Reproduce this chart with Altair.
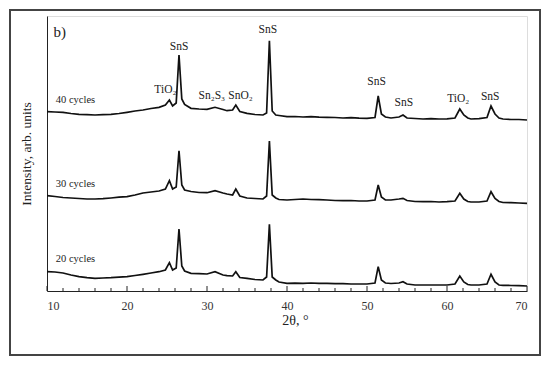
import altair as alt
import pandas as pd

# 2-theta positions (degrees)
two_theta = [10, 11, 12, 13, 14, 15, 16, 17, 18, 19, 20, 21, 22, 23, 24, 24.8, 25.3, 25.7,
             26.15, 26.5, 26.85, 27.2, 28, 29, 30, 31, 32, 32.5, 33.2, 33.6, 34.1, 35, 36, 37,
             37.45, 37.8, 38.15, 38.6, 39, 40, 41, 42, 43, 44, 45, 46, 47, 48, 49, 50, 51,
             51.4, 51.8, 52.3, 53, 54, 54.5, 55, 56, 57, 58, 59, 60, 61, 61.6, 62.1, 62.6,
             63, 64, 65, 65.5, 66.0, 66.5, 67, 68, 69, 70]

# intensities (arb. units, offset stacked)
int_40 = [179.3, 179, 178.7, 177.5, 176.7, 176.3, 176, 176.3, 176.7, 177.5, 178.7, 180, 181,
          182.5, 183.7, 186, 191, 185, 188, 236, 192, 186.5, 182.7, 182, 181.7, 183.7, 181.5,
          180.3, 181, 186, 179.5, 177.7, 176.5, 176, 178, 250.3, 180, 176, 175.5, 174.3,
          174.5, 174, 174.3, 173.8, 173.7, 173.5, 173, 173.3, 172.8, 172.7, 173.5, 195, 177,
          174, 173, 174, 176, 173, 172.5, 172, 172.3, 172, 172.2, 173, 182, 176, 173, 172,
          172.3, 173.5, 185, 177, 173, 172, 171.5, 171.5, 171]
int_30 = [95.3, 94.5, 93.5, 93, 92.5, 92, 92, 92.3, 93, 93.8, 94.3, 96, 98, 99, 100, 102,
          110.3, 102, 104, 140.3, 106, 101, 99.5, 98.5, 98.3, 100.3, 98, 97, 96, 102, 95, 93,
          92.5, 92, 95, 150, 96, 93, 91.5, 91, 91.5, 92, 91.5, 91.3, 91, 90.5, 90.3, 90.5,
          90, 90, 91, 106, 94, 91, 91, 92, 92.7, 90.5, 89.5, 89.3, 89.5, 89, 89.3, 90, 97.7,
          92, 89.5, 89, 89, 90, 99.3, 92.5, 89.5, 88.5, 88.3, 88, 87.7]
int_20 = [19.3, 19, 18, 16, 14.3, 13.3, 12.7, 13, 13.3, 13.8, 14.3, 15.5, 16.7, 18, 19.3, 21,
          28.3, 21, 23, 62, 25, 20, 17.7, 17.3, 17, 19.3, 16, 15.3, 15, 19.3, 13.5, 12.7, 11.5,
          11, 14, 66.7, 14, 11, 9, 7.7, 7.8, 7.7, 8, 7.7, 7.7, 7.3, 7.3, 7, 7, 7, 8, 24.3, 11,
          8, 7.5, 8, 9.3, 7, 6, 6, 6, 6, 6, 7, 15, 9, 6.5, 6, 6, 7, 16.7, 9, 6, 5.7, 5.5,
          5.3, 5]

series_names = ["40 cycles", "30 cycles", "20 cycles"]

# annotations
ann_text = ["SnS", "SnS", "TiO\u2082", "Sn\u2082S\u2083", "SnO\u2082", "SnS", "SnS", "TiO\u2082", "SnS",
            "40 cycles", "30 cycles", "20 cycles"]
ann_x = [26.5, 37.6, 24.8, 30.6, 34.2, 51.2, 54.6, 61.4, 65.4, 11.1, 11.1, 11.1]
ann_y = [244, 261, 201, 195, 195, 209, 188, 192, 194, 191, 106.7, 31.7]
ann_align = ["center"] * 9 + ["left"] * 3

major_ticks = [10, 20, 30, 40, 50, 60, 70]
minor_ticks = [12, 14, 16, 18, 22, 24, 26, 28, 32, 34, 36, 38, 42, 44, 46, 48, 52, 54, 56, 58,
               62, 64, 66, 68]

FONT = "Liberation Serif"

rows = []
for name, vals in zip(series_names, [int_40, int_30, int_20]):
    for i, (x, y) in enumerate(zip(two_theta, vals)):
        rows.append({"x": x, "y": y, "s": name, "o": i})
df = pd.DataFrame(rows)

xscale = alt.Scale(domain=[10, 70], nice=False)
yscale = alt.Scale(domain=[0, 275], nice=False, zero=False)

lines = alt.Chart(df).mark_line(color="#111", strokeWidth=1.7, strokeJoin="miter").encode(
    x=alt.X("x:Q", scale=xscale,
            axis=alt.Axis(title="2\u03b8, \u00b0", values=major_ticks, ticks=False, grid=False,
                          labelFont=FONT, labelFontSize=12, labelColor="#333", labelPadding=9,
                          titleFont=FONT, titleFontSize=14, titleFontWeight="normal",
                          titleColor="#222", titlePadding=2, titleX=248, domainColor="#222")),
    y=alt.Y("y:Q", scale=yscale,
            axis=alt.Axis(title="Intensity, arb. units", labels=False, ticks=False, grid=False,
                          titleFont=FONT, titleFontSize=13.5, titleFontWeight="normal",
                          titleColor="#222", titlePadding=14, domainColor="#222")),
    detail="s:N",
    order="o:Q",
)

ann_df = pd.DataFrame({"t": ann_text, "x": ann_x, "y": ann_y, "al": ann_align})
ann_c = alt.Chart(ann_df[ann_df["al"] == "center"]).mark_text(
    font=FONT, fontSize=11.5, color="#222", align="center", baseline="middle"
).encode(x=alt.X("x:Q", scale=xscale), y=alt.Y("y:Q", scale=yscale), text="t:N")
ann_l = alt.Chart(ann_df[ann_df["al"] == "left"]).mark_text(
    font=FONT, fontSize=10.5, color="#222", align="left", baseline="middle"
).encode(x=alt.X("x:Q", scale=xscale), y=alt.Y("y:Q", scale=yscale), text="t:N")

panel = alt.Chart(pd.DataFrame({"t": ["b)"], "x": [10.8], "y": [259]})).mark_text(
    font=FONT, fontSize=15, color="#222", align="left", baseline="middle"
).encode(x=alt.X("x:Q", scale=xscale), y=alt.Y("y:Q", scale=yscale), text="t:N")

maj = alt.Chart(pd.DataFrame({"t": major_ticks})).mark_rule(color="#222", strokeWidth=1).encode(
    x=alt.X("t:Q", scale=xscale), y=alt.value(275), y2=alt.value(270))
mnr = alt.Chart(pd.DataFrame({"t": minor_ticks})).mark_rule(color="#222", strokeWidth=1).encode(
    x=alt.X("t:Q", scale=xscale), y=alt.value(275), y2=alt.value(272))

frame = alt.Chart(pd.DataFrame({"a": [0]})).mark_rect(
    fillOpacity=0, stroke="#444", strokeWidth=2
).encode(x=alt.value(-37), x2=alt.value(493), y=alt.value(-6), y2=alt.value(339))

chart = alt.layer(frame, lines, maj, mnr, ann_c, ann_l, panel).properties(
    width=480, height=275,
    autosize=alt.AutoSizeParams(type="none"),
    padding={"left": 39, "top": 8, "right": 15, "bottom": 66},
).configure_view(stroke="#222", strokeWidth=1.2).configure(background="white")

chart.save("out.html", embed_options={"renderer": "svg", "actions": False})
